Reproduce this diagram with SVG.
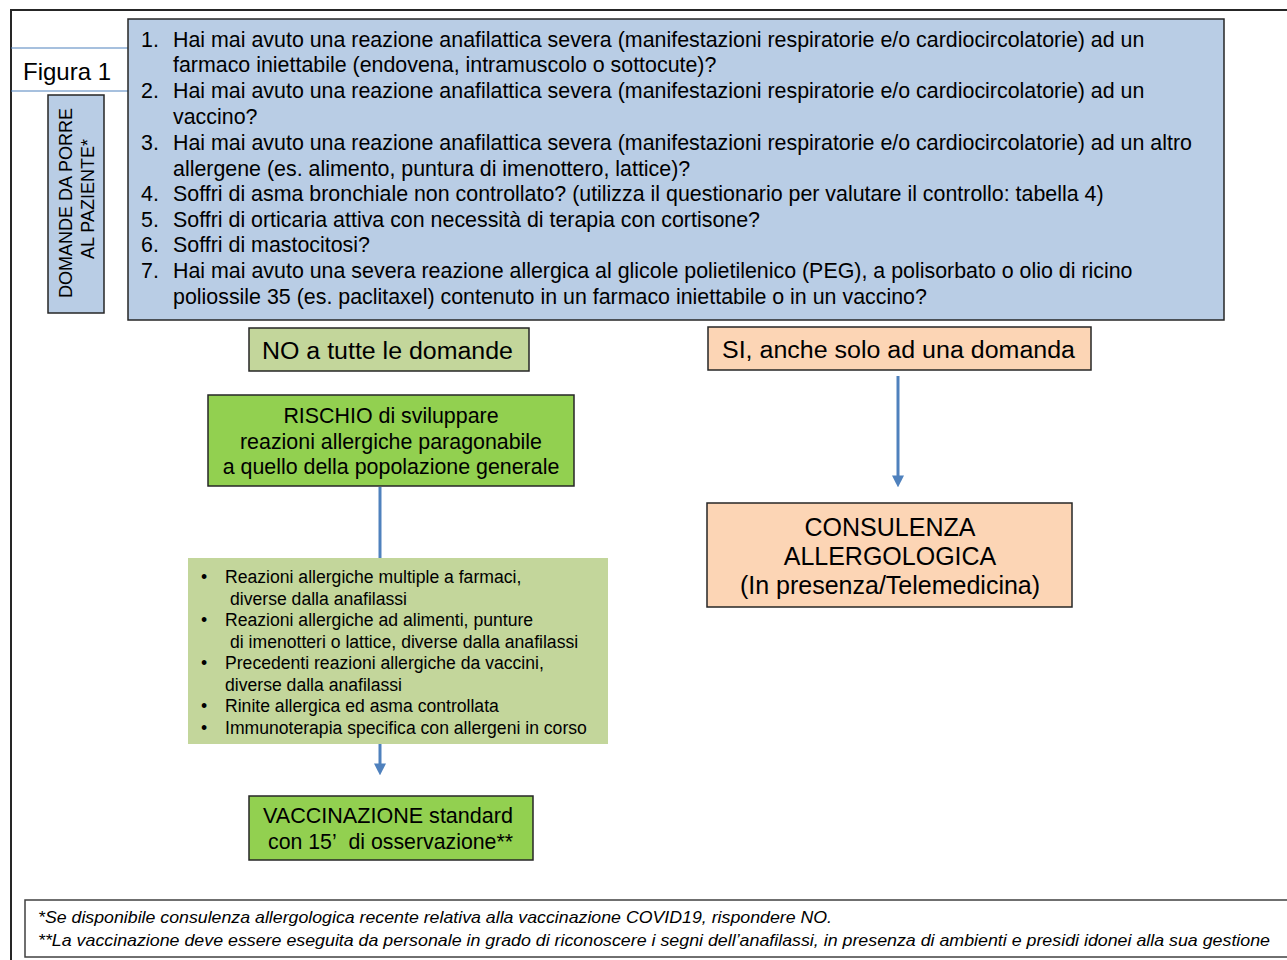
<svg xmlns="http://www.w3.org/2000/svg" width="1287" height="960" viewBox="0 0 1287 960">
<defs>
<style>
text{font-family:"Liberation Sans",Arial,sans-serif;fill:#000}
.q{font-size:21.4px}
.b{font-size:17.6px}
.box{stroke:#262626;stroke-width:1.5}
.blue{fill:#b9cde5}
.lg{fill:#c3d69b}
.g{fill:#92d050}
.or{fill:#fcd5b5}
.conn{stroke:#4f81bd;stroke-width:3;fill:none}
.ft{font-size:16.5px;font-style:italic}
</style>
<marker id="ah" markerWidth="4" markerHeight="4" refX="2.2" refY="2" orient="auto" markerUnits="strokeWidth">
<path d="M0,0 L4,2 L0,4 Z" fill="#4f81bd"/>
</marker>
</defs>
<rect width="1287" height="960" fill="#fff"/>
<rect x="11" y="10" width="1300" height="1000" fill="none" stroke="#262626" stroke-width="2"/>

<g id="figura">
<line x1="11" y1="48" x2="128" y2="48" stroke="#4f81bd" stroke-width="1"/>
<line x1="11" y1="91" x2="128" y2="91" stroke="#4f81bd" stroke-width="1"/>
<text x="23" y="80" font-size="24">Figura 1</text>
</g>

<g id="domande-label">
<rect class="box blue" x="48" y="95" width="56" height="218"/>
<text transform="translate(72,203) rotate(-90)" text-anchor="middle" font-size="18">DOMANDE DA PORRE</text>
<text transform="translate(94,199) rotate(-90)" text-anchor="middle" font-size="18">AL PAZIENTE*</text>
</g>

<g id="domande">
<rect class="box blue" x="128" y="19" width="1096" height="301"/>
<g class="q">
<text x="141" y="47">1.</text><text x="173" y="47">Hai mai avuto una reazione anafilattica severa (manifestazioni respiratorie e/o cardiocircolatorie) ad un</text>
<text x="173" y="72">farmaco iniettabile (endovena, intramuscolo o sottocute)?</text>
<text x="141" y="98">2.</text><text x="173" y="98">Hai mai avuto una reazione anafilattica severa (manifestazioni respiratorie e/o cardiocircolatorie) ad un</text>
<text x="173" y="124">vaccino?</text>
<text x="141" y="150">3.</text><text x="173" y="150">Hai mai avuto una reazione anafilattica severa (manifestazioni respiratorie e/o cardiocircolatorie) ad un altro</text>
<text x="173" y="176">allergene (es. alimento, puntura di imenottero, lattice)?</text>
<text x="141" y="201">4.</text><text x="173" y="201">Soffri di asma bronchiale non controllato? (utilizza il questionario per valutare il controllo: tabella 4)</text>
<text x="141" y="227">5.</text><text x="173" y="227">Soffri di orticaria attiva con necessità di terapia con cortisone?</text>
<text x="141" y="252">6.</text><text x="173" y="252">Soffri di mastocitosi?</text>
<text x="141" y="278">7.</text><text x="173" y="278">Hai mai avuto una severa reazione allergica al glicole polietilenico (PEG), a polisorbato o olio di ricino</text>
<text x="173" y="304">poliossile 35 (es. paclitaxel) contenuto in un farmaco iniettabile o in un vaccino?</text>
</g>
</g>

<g id="no">
<rect class="box lg" x="249" y="328" width="280" height="43"/>
<text x="262" y="359" font-size="23.5" textLength="251" lengthAdjust="spacingAndGlyphs">NO a tutte le domande</text>
</g>

<g id="si">
<rect class="box or" x="708" y="327" width="383" height="43"/>
<text x="722" y="358" font-size="23.5" textLength="353" lengthAdjust="spacingAndGlyphs">SI, anche solo ad una domanda</text>
</g>

<g id="rischio">
<rect class="box g" x="208" y="395" width="366" height="91"/>
<g font-size="21.4" text-anchor="middle">
<text x="391" y="423">RISCHIO di sviluppare</text>
<text x="391" y="449">reazioni allergiche paragonabile</text>
<text x="391" y="474">a quello della popolazione generale</text>
</g>
</g>

<g id="condizioni">
<rect class="lg" x="188" y="558" width="420" height="186"/>
<g class="b">
<text x="201" y="583">•</text><text x="225" y="583">Reazioni allergiche multiple a farmaci,</text>
<text x="230" y="605">diverse dalla anafilassi</text>
<text x="201" y="626">•</text><text x="225" y="626">Reazioni allergiche ad alimenti, punture</text>
<text x="230" y="648">di imenotteri o lattice, diverse dalla anafilassi</text>
<text x="201" y="669">•</text><text x="225" y="669">Precedenti reazioni allergiche da vaccini,</text>
<text x="225" y="691">diverse dalla anafilassi</text>
<text x="201" y="712">•</text><text x="225" y="712">Rinite allergica ed asma controllata</text>
<text x="201" y="734">•</text><text x="225" y="734">Immunoterapia specifica con allergeni in corso</text>
</g>
</g>

<g id="vaccinazione">
<rect class="box g" x="249" y="796" width="284" height="64"/>
<g font-size="21.6">
<text x="263" y="823" textLength="250" lengthAdjust="spacingAndGlyphs">VACCINAZIONE standard</text>
<text x="268" y="849" textLength="245" lengthAdjust="spacingAndGlyphs">con 15’&#160; di osservazione**</text>
</g>
</g>

<g id="consulenza">
<rect class="box or" x="707" y="503" width="365" height="104"/>
<g font-size="25" text-anchor="middle">
<text x="890" y="536">CONSULENZA</text>
<text x="890" y="565">ALLERGOLOGICA</text>
<text x="890" y="594">(In presenza/Telemedicina)</text>
</g>
</g>

<g id="connectors">
<line class="conn" x1="380" y1="487" x2="380" y2="558"/>
<line class="conn" x1="380" y1="744" x2="380" y2="770" marker-end="url(#ah)"/>
<line class="conn" x1="898" y1="376" x2="898" y2="482" marker-end="url(#ah)"/>
</g>

<g id="note">
<rect x="25" y="900" width="1300" height="57" fill="#fff" stroke="#404040" stroke-width="1.5"/>
<text class="ft" x="38" y="923" textLength="794" lengthAdjust="spacingAndGlyphs">*Se disponibile consulenza allergologica recente relativa alla vaccinazione COVID19, rispondere NO.</text>
<text class="ft" x="38" y="946" textLength="1232" lengthAdjust="spacingAndGlyphs">**La vaccinazione deve essere eseguita da personale in grado di riconoscere i segni dell’anafilassi, in presenza di ambienti e presidi idonei alla sua gestione</text>
</g>
</svg>
